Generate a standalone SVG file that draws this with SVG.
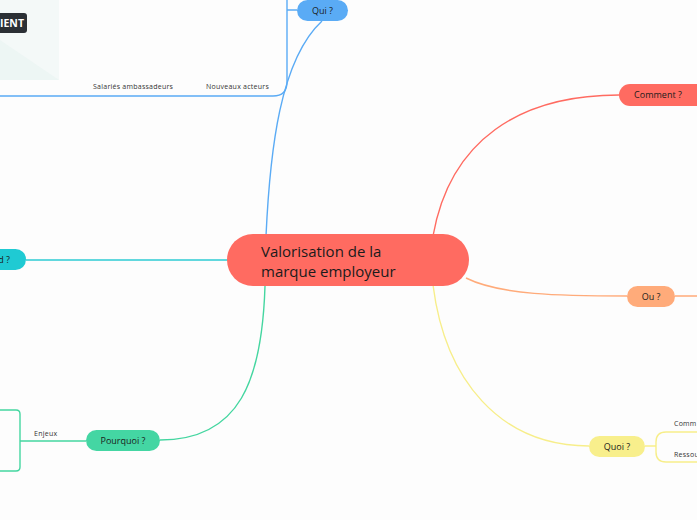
<svg xmlns="http://www.w3.org/2000/svg" width="697" height="520" viewBox="0 0 697 520">
<style>
.t{font-family:"Open Sans",Lato,"DejaVu Sans",sans-serif;fill:#1b1b1b}
.lbl{font-size:9px;text-anchor:middle}
.sm{font-size:7px;fill:#333;letter-spacing:0.25px}
.c{fill:none;stroke-width:1.4}
</style>
<rect width="697" height="520" fill="#fdfdfd"/>
<g id="corner-image">
<rect x="0" y="0" width="59" height="80" fill="#f4f9f8"/>
<polygon points="0,40 59,80 0,80" fill="#edf6f4"/>
<rect x="-6" y="13" width="33" height="20" rx="3" fill="#2b3035"/>
<text x="12" y="27" font-family="'Open Sans',sans-serif" font-size="10.5" font-weight="bold" fill="#ffffff" text-anchor="middle">IENT</text>
</g>
<g id="connectors">
<path class="c" stroke="#5aabf5" d="M266,236 C270,150 280,60 322,21"/>
<path class="c" stroke="#5aabf5" d="M297,10 H287 M287,0 V82 Q287,96 273,96 H0"/>
<path class="c" stroke="#ff6b61" d="M433,236 C450,140 520,95 619,95"/>
<path class="c" stroke="#ffab7a" d="M466,278 C500,295 560,296 627,296 M675,296 H697"/>
<path class="c" stroke="#f7ee8a" d="M433,285 C445,380 500,446 589,446 M645,446 H656 M697,432 H666 Q656,432 656,442 V452 Q656,462 666,462 H697"/>
<path class="c" stroke="#2ccbd3" d="M26,260 H228"/>
<path class="c" stroke="#44d6a0" d="M265,286 C262,380 240,440 160,440 M86,441 H20 M0,410 H16 Q20,410 20,414 V467 Q20,471 16,471 H0"/>
</g>
<g id="center">
<rect x="227" y="234" width="242" height="52" rx="26" fill="#ff6b61"/>
<text class="t" x="261" y="257" font-size="15">Valorisation de la</text>
<text class="t" x="261" y="277" font-size="15">marque employeur</text>
</g>
<g id="qui">
<rect x="297" y="0" width="51" height="21" rx="10.5" fill="#5aabf5"/>
<text class="t lbl" x="322.5" y="14">Qui ?</text>
</g>
<g id="qui-labels">
<text class="t sm" x="93" y="89">Salariés ambassadeurs</text>
<text class="t sm" x="206" y="89">Nouveaux acteurs</text>
</g>
<g id="comment">
<rect x="619" y="84" width="90" height="22" rx="11" fill="#ff6b61"/>
<text class="t lbl" x="658" y="98">Comment ?</text>
</g>
<g id="ou">
<rect x="627" y="286" width="48" height="21" rx="10.5" fill="#ffab7a"/>
<text class="t lbl" x="651" y="299.5">Ou ?</text>
</g>
<g id="quoi">
<rect x="589" y="436" width="56" height="21" rx="10.5" fill="#f8ef8c"/>
<text class="t lbl" x="617" y="449.5">Quoi ?</text>
<text class="t sm" x="674" y="426">Comm</text>
<text class="t sm" x="674" y="457">Ressou</text>
</g>
<g id="quand">
<rect x="-30" y="249" width="56" height="21" rx="10.5" fill="#1fcad3"/>
<text class="t" x="10" y="263" font-size="9" text-anchor="end">d ?</text>
</g>
<g id="pourquoi">
<rect x="86" y="430" width="74" height="21" rx="10.5" fill="#44d6a3"/>
<text class="t lbl" x="123" y="443.5">Pourquoi ?</text>
<text class="t sm" x="34" y="436">Enjeux</text>
</g>
</svg>
